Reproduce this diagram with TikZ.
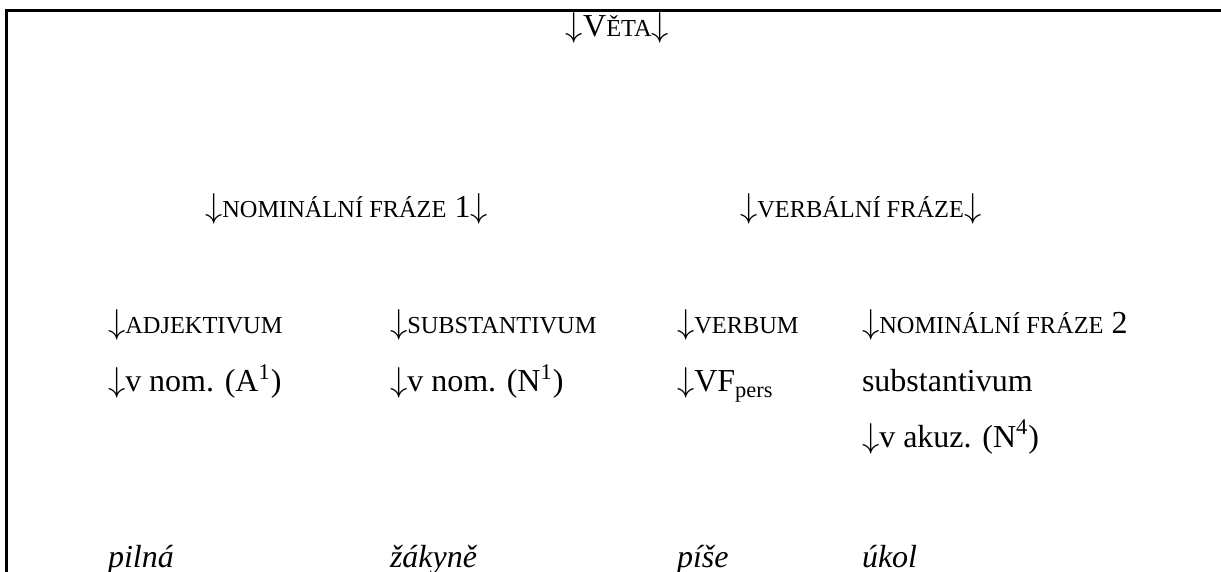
\documentclass[tikz,border=0pt]{standalone}
\usepackage{fontspec}
\setmainfont{Liberation Serif}
\newcommand\SC[1]{{\fontsize{12.2pt}{15pt}\selectfont #1}}
\newcommand\Main{\fontsize{16pt}{19pt}\selectfont}
\newcommand\Dn{\ensuremath{\downarrow}}
\begin{document}
\begin{tikzpicture}[x=0.5pt,y=-0.5pt,
  lbl/.style={anchor=base west, inner sep=0pt, outer sep=0pt, font=\Main},
  frame/.style={line width=1.5pt, line cap=rect}]
\useasboundingbox (0,0) rectangle (1221,572);
\coordinate (fbl) at (6,575);
\coordinate (ftl) at (6,11);
\coordinate (ftr) at (1224,11);
\draw[frame] (fbl) -- (ftl) -- (ftr);
\node[lbl, anchor=base] (veta) at (617.5,37) {\Dn V\SC{ĚTA}\Dn};
\node[lbl] (nf1) at (205,218) {\Dn\SC{NOMINÁLNÍ FRÁZE} 1\Dn};
\node[lbl] (vf) at (740,218) {\Dn\SC{VERBÁLNÍ FRÁZE}\Dn};
\node[lbl] (adj) at (108,334) {\Dn\SC{ADJEKTIVUM}};
\node[lbl] (subst) at (390,334) {\Dn\SC{SUBSTANTIVUM}};
\node[lbl] (verb) at (677,334) {\Dn\SC{VERBUM}};
\node[lbl] (nf2) at (862,334) {\Dn\SC{NOMINÁLNÍ FRÁZE} 2};
\node[lbl] (adjc) at (108,392) {\Dn v nom. (A\textsuperscript{1})};
\node[lbl] (substc) at (390,392) {\Dn v nom. (N\textsuperscript{1})};
\node[lbl] (vfp) at (677,392) {\Dn VF\textsubscript{pers}};
\node[lbl] (nf2s) at (862,392) {substantivum};
\node[lbl] (nf2c) at (862,447) {\Dn v akuz. (N\textsuperscript{4})};
\node[lbl] (w1) at (108,567) {\itshape pilná};
\node[lbl] (w2) at (390,567) {\itshape žákyně};
\node[lbl] (w3) at (677,567) {\itshape píše};
\node[lbl] (w4) at (862,567) {\itshape úkol};
\end{tikzpicture}
\end{document}
